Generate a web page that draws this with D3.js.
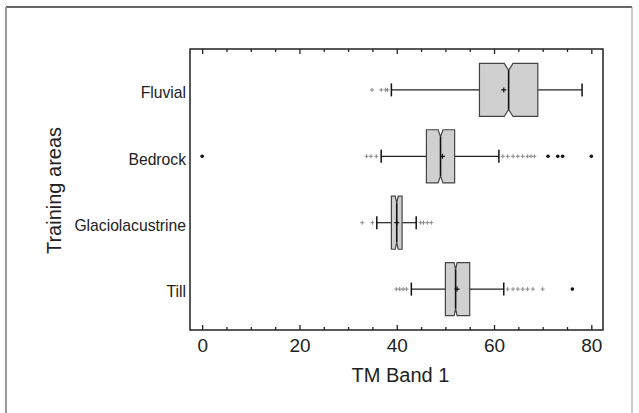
<!DOCTYPE html>
<html>
<head>
<meta charset="utf-8">
<script src="https://cdn.jsdelivr.net/npm/d3@7"></script>
<style>
  body { margin: 0; background: #fff; }
  svg { font-family: "Liberation Sans", Arial, Helvetica, sans-serif; }
</style>
</head>
<body>
<svg id="chart" width="639" height="413"></svg>
<script>
// box plot stats (TM Band 1)
const categories = ['Fluvial', 'Bedrock', 'Glaciolacustrine', 'Till'];
const q1 = [57.0, 46.1, 38.9, 50.0];
const medians = [63.0, 49.0, 40.0, 52.1];
const q3 = [69.0, 51.9, 41.1, 55.0];
const means = [62.0, 49.4, 40.0, 52.4];
const whiskerLow = [38.9, 36.8, 35.9, 43.0];
const whiskerHigh = [78.1, 61.0, 44.0, 62.0];
const notchHalf = [0.9, 0.5, 0.3, 0.3];
const nearOutliers = [
  [34.9, 36.8, 37.7, 38.1],
  [33.8, 34.7, 35.8, 61.8, 62.8, 63.9, 64.9, 65.9, 66.9, 67.6, 68.3],
  [32.9, 35.0, 44.9, 45.5, 46.3, 47.1],
  [39.9, 40.6, 41.3, 42.0, 62.8, 63.9, 64.9, 65.9, 66.9, 68.0, 70.0]
];
const farOutliers = [
  [],
  [0, 71.1, 73.1, 74.1, 80.0],
  [],
  [76.1]
];
const majorTicks = [0, 20, 40, 60, 80];
const minorTicks = [5, 10, 15, 25, 30, 35, 45, 50, 55, 65, 70, 75];
const xTitle = 'TM Band 1';
const yTitle = 'Training areas';

const svg = d3.select('#chart');
const plot = {left: 190, right: 603, top: 49, bottom: 330};

// outer frame of the figure
svg.append('line').attr('x1', 6).attr('x2', 632).attr('y1', 7).attr('y2', 7)
  .attr('stroke', '#333').attr('stroke-width', 1.5);
svg.append('line').attr('x1', 6).attr('x2', 6).attr('y1', 7).attr('y2', 413)
  .attr('stroke', '#999').attr('stroke-width', 2);
svg.append('line').attr('x1', 632).attr('x2', 632).attr('y1', 7).attr('y2', 413)
  .attr('stroke', '#999').attr('stroke-width', 1);

const x = d3.scaleLinear().domain([-2.5, 82.4]).range([plot.left, plot.right]);
const y = d3.scalePoint().domain(categories).range([plot.top, plot.bottom]).padding(0.616);
const boxH = y.step() * 0.8;

const stats = categories.map((c, i) => ({
  cat: c, q1: q1[i], med: medians[i], q3: q3[i], mean: means[i],
  lo: whiskerLow[i], hi: whiskerHigh[i], notch: notchHalf[i],
  near: nearOutliers[i], far: farOutliers[i]
}));

// axes: ticks point inward, on bottom and top
function addAxis(axisFn, ticks, size, ty, labels) {
  const ax = axisFn(x).tickValues(ticks).tickSize(-size).tickPadding(9)
    .tickFormat(labels ? d3.format('d') : '');
  const g = svg.append('g').attr('transform', `translate(0,${ty})`).call(ax);
  g.select('.domain').remove();
  g.selectAll('.tick line').attr('stroke', '#222').attr('stroke-width', 1.3);
  g.selectAll('.tick text').attr('fill', '#222').style('font-size', '19px');
  return g;
}
addAxis(d3.axisBottom, majorTicks, 5, plot.bottom, true);
addAxis(d3.axisBottom, minorTicks, 3, plot.bottom, false);
addAxis(d3.axisTop, majorTicks, 5, plot.top, false);
addAxis(d3.axisTop, minorTicks, 3, plot.top, false);

// category labels (no tick marks)
const yAx = svg.append('g').attr('transform', `translate(${plot.left},0)`)
  .call(d3.axisLeft(y).tickSize(0).tickPadding(4));
yAx.select('.domain').remove();
yAx.selectAll('.tick text').attr('fill', '#222').style('font-size', '15.7px').attr('dy', '0.5em');

// plot frame
svg.append('rect')
  .attr('x', plot.left).attr('y', plot.top)
  .attr('width', plot.right - plot.left).attr('height', plot.bottom - plot.top)
  .attr('fill', 'none').attr('stroke', '#222').attr('stroke-width', 1.5);

const boxes = svg.append('g').selectAll('g').data(stats).join('g');

// whiskers + caps
boxes.append('line')
  .attr('x1', d => x(d.lo)).attr('x2', d => x(d.q1))
  .attr('y1', d => y(d.cat)).attr('y2', d => y(d.cat))
  .attr('stroke', '#222').attr('stroke-width', 1.2);
boxes.append('line')
  .attr('x1', d => x(d.q3)).attr('x2', d => x(d.hi))
  .attr('y1', d => y(d.cat)).attr('y2', d => y(d.cat))
  .attr('stroke', '#222').attr('stroke-width', 1.2);
boxes.selectAll('.cap').data(d => [d.lo, d.hi].map(v => ({v, c: d.cat}))).join('line')
  .attr('class', 'cap')
  .attr('x1', d => x(d.v)).attr('x2', d => x(d.v))
  .attr('y1', d => y(d.c) - 6.5).attr('y2', d => y(d.c) + 6.5)
  .attr('stroke', '#111').attr('stroke-width', 1.5);

// notched box
function boxPath(d) {
  const yc = y(d.cat), t = yc - boxH / 2, b = yc + boxH / 2;
  const depth = 7;
  const nl = x(d.med - d.notch), nr = x(d.med + d.notch), m = x(d.med);
  return `M${x(d.q1)},${t}L${nl},${t}L${m},${t + depth}L${nr},${t}L${x(d.q3)},${t}` +
    `L${x(d.q3)},${b}L${nr},${b}L${m},${b - depth}L${nl},${b}L${x(d.q1)},${b}Z`;
}
boxes.append('path')
  .attr('d', boxPath)
  .attr('fill', '#d0d0d0').attr('stroke', '#444').attr('stroke-width', 1.2);

// median
boxes.append('line')
  .attr('x1', d => x(d.med)).attr('x2', d => x(d.med))
  .attr('y1', d => y(d.cat) - boxH / 2 + 7).attr('y2', d => y(d.cat) + boxH / 2 - 7)
  .attr('stroke', '#111').attr('stroke-width', 1.6);

// mean marker
const plus = (cx, cy, s) => `M${cx - s},${cy}L${cx + s},${cy}M${cx},${cy - s}L${cx},${cy + s}`;
boxes.append('path')
  .attr('d', d => plus(x(d.mean), y(d.cat), 2.5))
  .attr('stroke', '#111').attr('stroke-width', 1.2);

// near outliers as gray pluses
boxes.selectAll('.near').data(d => d.near.map(v => ({v, c: d.cat}))).join('path')
  .attr('class', 'near')
  .attr('d', d => plus(x(d.v), y(d.c), 2))
  .attr('stroke', '#888').attr('stroke-width', 1);

// far outliers as black dots
boxes.selectAll('.far').data(d => d.far.map(v => ({v, c: d.cat}))).join('circle')
  .attr('class', 'far')
  .attr('cx', d => x(d.v)).attr('cy', d => y(d.c))
  .attr('r', 1.8).attr('fill', '#111');

// axis titles
svg.append('text')
  .attr('x', (plot.left + plot.right) / 2 + 4).attr('y', 382)
  .attr('text-anchor', 'middle').attr('fill', '#222')
  .style('font-size', '20px').text(xTitle);
svg.append('text')
  .attr('transform', `translate(61,${(plot.top + plot.bottom) / 2 + 1}) rotate(-90)`)
  .attr('text-anchor', 'middle').attr('fill', '#222')
  .style('font-size', '20px').text(yTitle);
</script>
</body>
</html>
